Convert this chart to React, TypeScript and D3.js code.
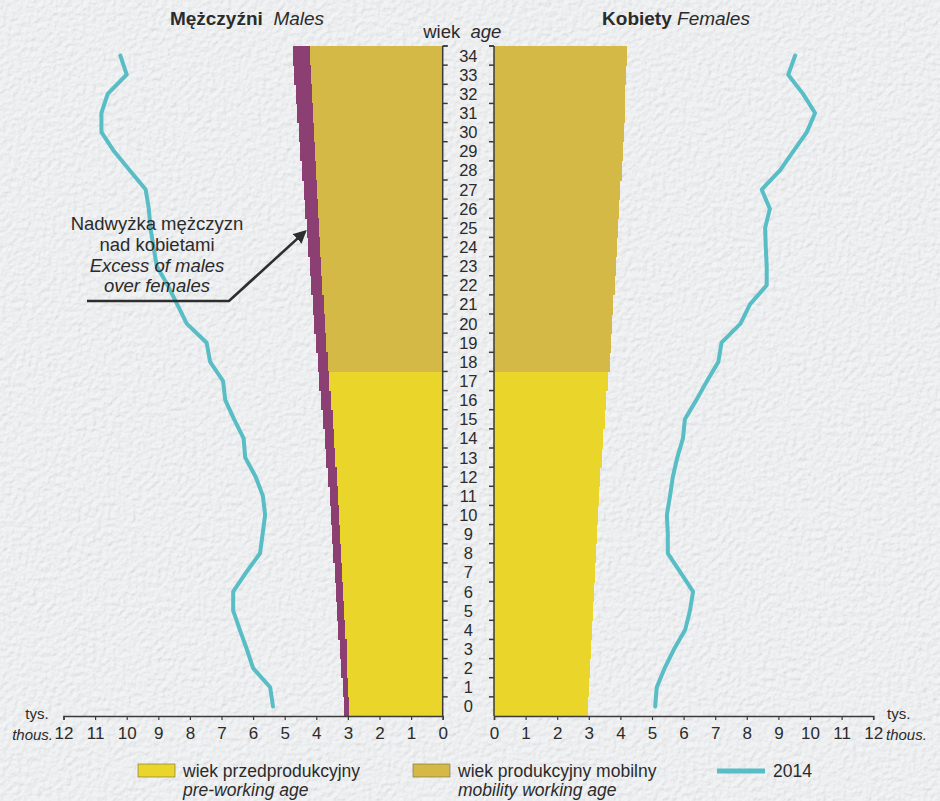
import React, { useRef, useEffect } from 'react';
import * as d3 from 'd3';

// ages 0..34
const ages: number[] = d3.range(0, 35);

// population (thous.) by age
const females: number[] = [
  2.97, 3.0, 3.03, 3.06, 3.1, 3.13, 3.16, 3.2, 3.23, 3.26,
  3.3, 3.33, 3.37, 3.41, 3.45, 3.5, 3.55, 3.6, 3.66, 3.7,
  3.74, 3.78, 3.82, 3.86, 3.9, 3.93, 3.97, 4.0, 4.04, 4.07,
  4.1, 4.13, 4.15, 4.18, 4.2,
];
const males: number[] = [
  3.13, 3.17, 3.21, 3.25, 3.3, 3.33, 3.37, 3.42, 3.46, 3.5,
  3.54, 3.58, 3.63, 3.68, 3.72, 3.78, 3.84, 3.9, 3.96, 4.01,
  4.06, 4.11, 4.16, 4.21, 4.26, 4.3, 4.35, 4.4, 4.46, 4.51,
  4.56, 4.61, 4.65, 4.71, 4.75,
];

// 2014 line (thous.)
const males2014: number[] = [
  5.37, 5.46, 6.0, 6.2, 6.42, 6.63, 6.63, 6.22, 5.78, 5.7,
  5.62, 5.69, 5.92, 6.25, 6.3, 6.6, 6.88, 6.95, 7.36, 7.47,
  8.1, 8.4, 8.7, 9.05, 9.15, 9.25, 9.3, 9.4, 9.9, 10.4,
  10.8, 10.8, 10.6, 10.0, 10.2,
];
const females2014: number[] = [
  5.1, 5.15, 5.4, 5.7, 6.05, 6.2, 6.3, 5.9, 5.5, 5.5,
  5.47, 5.57, 5.66, 5.8, 5.98, 6.04, 6.4, 6.74, 7.1, 7.2,
  7.8, 8.1, 8.63, 8.63, 8.6, 8.58, 8.73, 8.47, 9.05, 9.47,
  9.9, 10.16, 9.78, 9.31, 9.53,
];

const xTicks: number[] = d3.range(0, 13);
const workingAgeFrom = 18;

const legendItems = [
  { pl: 'wiek przedprodukcyjny', en: 'pre-working age', kind: 'pre' },
  { pl: 'wiek produkcyjny mobilny', en: 'mobility working age', kind: 'mob' },
  { pl: '2014', en: '', kind: 'line' },
];

const COLORS = {
  pre: '#eAd52b',
  mob: '#d4b946',
  excess: '#8b3f72',
  line: '#58bdc5',
  text: '#2b2b2b',
  axis: '#3a3a3a',
};

const FONT = '"Liberation Sans", Arial, sans-serif';

const App: React.FC = () => {
  const ref = useRef<SVGSVGElement | null>(null);
  const width = 940;
  const height = 801;

  useEffect(() => {
    const svg = d3.select(ref.current);
    svg.selectAll('*').remove();

    // paper texture
    const defs = svg.append('defs');
    const filter = defs.append('filter').attr('id', 'paper')
      .attr('x', 0).attr('y', 0).attr('width', '100%').attr('height', '100%');
    filter.append('feTurbulence')
      .attr('type', 'fractalNoise')
      .attr('baseFrequency', 0.2)
      .attr('numOctaves', 3)
      .attr('seed', 7)
      .attr('result', 'noise');
    filter.append('feDiffuseLighting')
      .attr('in', 'noise')
      .attr('lighting-color', '#ffffff')
      .attr('surfaceScale', 1.2)
      .attr('result', 'light')
      .append('feDistantLight')
      .attr('azimuth', 235)
      .attr('elevation', 65);

    svg.append('rect').attr('width', width).attr('height', height).attr('fill', '#e6e9ec');
    svg.append('rect').attr('width', width).attr('height', height)
      .attr('filter', 'url(#paper)').attr('opacity', 0.55);

    const top = 46;
    const bottom = 716;
    const leftZero = 442.7;
    const rightZero = 494;
    const unit = 31.6;

    const xL = d3.scaleLinear().domain([0, 12]).range([leftZero, leftZero - 12 * unit]);
    const xR = d3.scaleLinear().domain([0, 12]).range([rightZero, rightZero + 12 * unit]);
    const y = d3.scaleBand<number>().domain(ages).range([bottom, top]).padding(0);
    const bw = y.bandwidth();

    const fillFor = (a: number) => (a >= workingAgeFrom ? COLORS.mob : COLORS.pre);

    const bars = svg.append('g').attr('shape-rendering', 'crispEdges');

    // males: base (same as females) + excess
    bars.selectAll('rect.mbase')
      .data(ages)
      .join('rect')
      .attr('class', 'mbase')
      .attr('x', a => xL(females[a]))
      .attr('y', a => y(a) as number)
      .attr('width', a => xL(0) - xL(females[a]))
      .attr('height', bw + 0.5)
      .attr('fill', fillFor);

    bars.selectAll('rect.mex')
      .data(ages)
      .join('rect')
      .attr('class', 'mex')
      .attr('x', a => xL(males[a]))
      .attr('y', a => y(a) as number)
      .attr('width', a => xL(females[a]) - xL(males[a]) + 0.5)
      .attr('height', bw + 0.5)
      .attr('fill', COLORS.excess);

    bars.selectAll('rect.fbar')
      .data(ages)
      .join('rect')
      .attr('class', 'fbar')
      .attr('x', xR(0))
      .attr('y', a => y(a) as number)
      .attr('width', a => xR(females[a]) - xR(0))
      .attr('height', bw + 0.5)
      .attr('fill', fillFor);

    // 2014 lines
    const lineL = d3.line<number>()
      .x(a => xL(males2014[a]))
      .y(a => (y(a) as number) + bw / 2);
    const lineR = d3.line<number>()
      .x(a => xR(females2014[a]))
      .y(a => (y(a) as number) + bw / 2);

    svg.append('path').attr('d', lineL(ages))
      .attr('fill', 'none').attr('stroke', COLORS.line)
      .attr('stroke-width', 4).attr('stroke-linejoin', 'round').attr('stroke-linecap', 'round');
    svg.append('path').attr('d', lineR(ages))
      .attr('fill', 'none').attr('stroke', COLORS.line)
      .attr('stroke-width', 4).attr('stroke-linejoin', 'round').attr('stroke-linecap', 'round');

    // age column
    const ageCol = svg.append('g');
    ageCol.append('line')
      .attr('x1', xL(0)).attr('x2', xL(0)).attr('y1', top).attr('y2', bottom)
      .attr('stroke', COLORS.axis).attr('stroke-width', 1.5);
    ageCol.append('line')
      .attr('x1', xR(0)).attr('x2', xR(0)).attr('y1', top).attr('y2', bottom)
      .attr('stroke', COLORS.axis).attr('stroke-width', 1.5);

    const boundaries = ages.map(a => y(a) as number).concat([top]);
    boundaries.forEach(by => {
      ageCol.append('line')
        .attr('x1', xL(0)).attr('x2', xL(0) + 5).attr('y1', by).attr('y2', by)
        .attr('stroke', COLORS.axis).attr('stroke-width', 1.5);
      ageCol.append('line')
        .attr('x1', xR(0)).attr('x2', xR(0) - 5).attr('y1', by).attr('y2', by)
        .attr('stroke', COLORS.axis).attr('stroke-width', 1.5);
    });

    ageCol.selectAll('text')
      .data(ages)
      .join('text')
      .attr('x', (xL(0) + xR(0)) / 2)
      .attr('y', a => (y(a) as number) + bw / 2 + 6)
      .attr('text-anchor', 'middle')
      .attr('font-family', FONT)
      .attr('font-size', 16.5)
      .attr('fill', COLORS.text)
      .text(a => String(a));

    // bottom axes
    const axisL = d3.axisBottom(xL).tickValues(xTicks).tickSize(4).tickFormat(d3.format('d'));
    const axisR = d3.axisBottom(xR).tickValues(xTicks).tickSize(4).tickFormat(d3.format('d'));

    [axisL, axisR].forEach(ax => {
      const g = svg.append('g').attr('transform', `translate(0,${bottom})`).call(ax);
      g.select('.domain').attr('stroke', COLORS.axis).attr('stroke-width', 1.5);
      g.selectAll('.tick line').attr('stroke', COLORS.axis).attr('stroke-width', 1.2);
      g.selectAll('.tick text')
        .attr('font-family', FONT)
        .attr('font-size', 17)
        .attr('fill', COLORS.text)
        .attr('y', 11);
    });

    svg.append('text').attr('x', 37).attr('y', 719).attr('text-anchor', 'middle')
      .attr('font-family', FONT).attr('font-size', 15).attr('fill', COLORS.text).text('tys.');
    svg.append('text').attr('x', 53).attr('y', 740).attr('text-anchor', 'end')
      .attr('font-family', FONT).attr('font-size', 15).attr('font-style', 'italic').attr('fill', COLORS.text).text('thous.');
    svg.append('text').attr('x', 887).attr('y', 719)
      .attr('font-family', FONT).attr('font-size', 15).attr('fill', COLORS.text).text('tys.');
    svg.append('text').attr('x', 886).attr('y', 740)
      .attr('font-family', FONT).attr('font-size', 15).attr('font-style', 'italic').attr('fill', COLORS.text).text('thous.');

    // titles
    const title = (x: number, bold: string, it: string) => {
      const t = svg.append('text').attr('x', x).attr('y', 25)
        .attr('text-anchor', 'middle')
        .attr('font-family', FONT).attr('font-size', 19).attr('fill', COLORS.text);
      t.append('tspan').attr('font-weight', 'bold').text(bold);
      t.append('tspan').attr('font-style', 'italic').text(it);
    };
    title(247, 'Mężczyźni\u00a0\u00a0', 'Males');
    title(676, 'Kobiety ', 'Females');

    const ageTitle = svg.append('text').attr('x', (xL(0) + xR(0)) / 2 - 6).attr('y', 38)
      .attr('text-anchor', 'middle')
      .attr('font-family', FONT).attr('font-size', 18.5).attr('fill', COLORS.text);
    ageTitle.append('tspan').text('wiek\u00a0\u00a0');
    ageTitle.append('tspan').attr('font-style', 'italic').text('age');

    // annotation
    const notes = [
      { t: 'Nadwyżka mężczyzn', it: false },
      { t: 'nad kobietami', it: false },
      { t: 'Excess of males', it: true },
      { t: 'over females', it: true },
    ];
    notes.forEach((n, i) => {
      svg.append('text').attr('x', 157).attr('y', 230 + i * 20.8)
        .attr('text-anchor', 'middle')
        .attr('font-family', FONT).attr('font-size', 18.5)
        .attr('font-style', n.it ? 'italic' : 'normal')
        .attr('fill', COLORS.text)
        .text(n.t);
    });

    defs.append('marker').attr('id', 'arrow')
      .attr('viewBox', '0 0 10 10').attr('refX', 8).attr('refY', 5)
      .attr('markerWidth', 5).attr('markerHeight', 5).attr('orient', 'auto')
      .append('path').attr('d', 'M0,0 L10,5 L0,10 Z').attr('fill', '#2e2e2e');

    const tip = { x: xL(males[25]) + 2, y: (y(25) as number) + bw / 2 };
    svg.append('path')
      .attr('d', `M87,301 L229,301 L${tip.x - 4},${tip.y + 4}`)
      .attr('fill', 'none').attr('stroke', '#2e2e2e').attr('stroke-width', 2.6)
      .attr('marker-end', 'url(#arrow)');

    // legend
    const legendX = [138, 413, 717];
    legendItems.forEach((item, i) => {
      const lx = legendX[i];
      if (item.kind === 'line') {
        svg.append('line').attr('x1', lx).attr('x2', lx + 48).attr('y1', 771).attr('y2', 771)
          .attr('stroke', COLORS.line).attr('stroke-width', 5);
        svg.append('text').attr('x', lx + 56).attr('y', 777)
          .attr('font-family', FONT).attr('font-size', 17.5).attr('fill', COLORS.text).text(item.pl);
      } else {
        svg.append('rect').attr('x', lx).attr('y', 764).attr('width', 37).attr('height', 13)
          .attr('fill', item.kind === 'pre' ? COLORS.pre : COLORS.mob)
          .attr('stroke', '#6b6b4a').attr('stroke-width', 0.6);
        svg.append('text').attr('x', lx + 45).attr('y', 777)
          .attr('font-family', FONT).attr('font-size', 17.5).attr('fill', COLORS.text).text(item.pl);
        svg.append('text').attr('x', lx + 45).attr('y', 796)
          .attr('font-family', FONT).attr('font-size', 17.5).attr('font-style', 'italic')
          .attr('fill', COLORS.text).text(item.en);
      }
    });
  }, []);

  return (
    <svg
      ref={ref}
      width={width}
      height={height}
      style={{ position: 'absolute', left: 0, top: 0, display: 'block' }}
    />
  );
};

export default App;
